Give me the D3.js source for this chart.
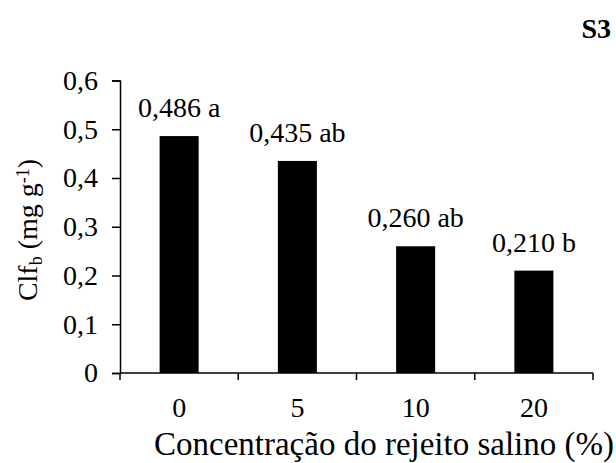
<!DOCTYPE html>
<html>
<head>
<meta charset="utf-8">
<script src="https://d3js.org/d3.v7.min.js"></script>
<style>
  body { margin: 0; background: #fff; }
</style>
</head>
<body>
<div id="chart"></div>
<script>
// data
const categories = ["0", "5", "10", "20"];
const values = [0.486, 0.435, 0.260, 0.210];
const letters = ["a", "ab", "ab", "b"];
const yTicks = [0, 0.1, 0.2, 0.3, 0.4, 0.5, 0.6];

const width = 616, height = 463;
const plotLeft = 120, plotRight = 593, plotTop = 80.5, plotBottom = 373;
const serif = "Liberation Serif";

const svg = d3.select("#chart").append("svg")
    .attr("width", width)
    .attr("height", height)
    .attr("font-family", serif);

const x = d3.scaleBand()
    .domain(categories)
    .range([plotLeft, plotRight])
    .paddingInner(0.67)
    .paddingOuter(0.335);

const y = d3.scaleLinear().domain([0, 0.6]).range([plotBottom, plotTop]);

const fmt = d => d === 0 ? "0" : d3.format(".1f")(d).replace(".", ",");

// bars
svg.selectAll("rect.bar")
    .data(values)
    .join("rect")
    .attr("class", "bar")
    .attr("x", (d, i) => x(categories[i]))
    .attr("y", d => y(d))
    .attr("width", x.bandwidth())
    .attr("height", d => y(0) - y(d))
    .attr("fill", "#000");

// value labels
svg.selectAll("text.val")
    .data(values)
    .join("text")
    .attr("class", "val")
    .attr("x", (d, i) => x(categories[i]) + x.bandwidth() / 2)
    .attr("y", d => y(d) - 19)
    .attr("text-anchor", "middle")
    .attr("font-family", serif)
    .attr("font-size", 28)
    .text((d, i) => d3.format(".3f")(d).replace(".", ",") + " " + letters[i]);

// y axis
const yAxis = svg.append("g")
    .attr("transform", `translate(${plotLeft},0)`)
    .call(d3.axisLeft(y).tickValues(yTicks).tickFormat(fmt).tickSize(8).tickPadding(14));
yAxis.attr("font-family", serif).attr("font-size", 28);
yAxis.select(".domain").attr("stroke", "#000").attr("stroke-width", 1.5);
yAxis.selectAll(".tick line").attr("stroke", "#000").attr("stroke-width", 1.5);
yAxis.selectAll(".tick text").attr("fill", "#000");

// x axis: ticks on category boundaries
const step = x.step();
const bounds = d3.range(categories.length + 1).map(i => plotLeft + i * step);
svg.append("line")
    .attr("x1", plotLeft).attr("x2", plotRight)
    .attr("y1", plotBottom).attr("y2", plotBottom)
    .attr("stroke", "#000").attr("stroke-width", 1.5);
svg.selectAll("line.xt")
    .data(bounds)
    .join("line")
    .attr("class", "xt")
    .attr("x1", d => d).attr("x2", d => d)
    .attr("y1", plotBottom).attr("y2", plotBottom + 7)
    .attr("stroke", "#000").attr("stroke-width", 1.5);
svg.selectAll("text.xl")
    .data(categories)
    .join("text")
    .attr("class", "xl")
    .attr("x", d => x(d) + x.bandwidth() / 2)
    .attr("y", 417)
    .attr("text-anchor", "middle")
    .attr("font-family", serif)
    .attr("font-size", 28)
    .text(d => d);

// axis titles
svg.append("text")
    .attr("x", 384)
    .attr("y", 455)
    .attr("text-anchor", "middle")
    .attr("font-family", serif)
    .attr("font-size", 33)
    .text("Concentração do rejeito salino (%)");

const yt = svg.append("text")
    .attr("transform", "translate(37,230) rotate(-90)")
    .attr("text-anchor", "middle")
    .attr("font-family", serif)
    .attr("font-size", 28);
yt.append("tspan").text("Clf");
yt.append("tspan").attr("baseline-shift", "-25%").attr("font-size", 18).text("b");
yt.append("tspan").text(" (mg g");
yt.append("tspan").attr("baseline-shift", "45%").attr("font-size", 18).text("-1");
yt.append("tspan").text(")");

// panel tag
svg.append("text")
    .attr("x", 611)
    .attr("y", 38)
    .attr("text-anchor", "end")
    .attr("font-family", serif)
    .attr("font-size", 28)
    .attr("font-weight", "bold")
    .text("S3");
</script>
</body>
</html>
